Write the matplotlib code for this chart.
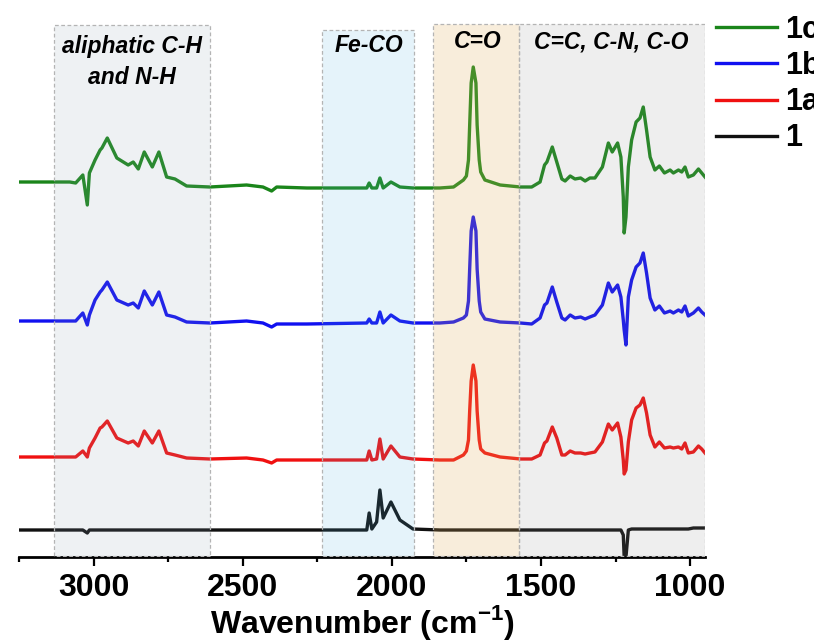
import numpy as np
import matplotlib.pyplot as plt
from matplotlib.patches import Rectangle
from matplotlib.ticker import MultipleLocator

plt.rcParams['font.family'] = ['Liberation Sans', 'DejaVu Sans']
plt.rcParams['font.weight'] = 'bold'
plt.rcParams['mathtext.fontset'] = 'custom'
plt.rcParams['mathtext.rm'] = 'Liberation Sans:bold'
plt.rcParams['mathtext.bf'] = 'Liberation Sans:bold'

# common wavenumber grid (cm-1)
wavenumber = [3250, 3080, 3060, 3036, 3021, 3014, 2995, 2978, 2972, 2954,
              2922, 2884, 2867, 2850, 2830, 2803, 2781, 2755, 2727, 2688,
              2610, 2487, 2432, 2403, 2386, 2285, 2084, 2076, 2067, 2051,
              2040, 2029, 2003, 1973, 1929, 1839, 1793, 1760, 1750, 1743,
              1739, 1734, 1727, 1718, 1714, 1707, 1702, 1688, 1637, 1569,
              1531, 1503, 1488, 1480, 1462, 1447, 1430, 1419, 1402, 1386,
              1367, 1352, 1336, 1319, 1294, 1274, 1261, 1243, 1232, 1224,
              1221, 1215, 1207, 1196, 1181, 1168, 1157, 1146, 1134, 1118,
              1103, 1086, 1067, 1056, 1039, 1028, 1017, 1006, 989, 972,
              961, 950]

# absorbance (a.u.), each relative to its own baseline
abs_1c = [1, 1, 0, 8, -22, 10, 23, 33, 35, 45,
          25, 18, 21, 14, 31, 16, 31, 6, 4, -3,
          -4, -2, -4, -8, -4, -5, -5, 0, -5, -5,
          5, -5, 1, -4, -5, -5, -4, 3, 7, 23,
          58, 100, 116, 100, 58, 23, 11, 3, -2, -4,
          -4, 1, 18, 21, 36, 21, 4, 2, 7, 4,
          5, 2, 5, 5, 16, 40, 31, 40, 26, -14,
          -50, -34, 16, 43, 61, 65, 76, 53, 26, 13,
          17, 10, 13, 10, 13, 11, 16, 6, 8, 14,
          10, 6]
abs_1b = [0, 0, 0, 8, -4, 6, 21, 29, 31, 39,
          21, 16, 18, 13, 30, 16, 29, 6, 4, -1,
          -2, 0, -2, -6, -3, -3, -2, 2, -2, -2,
          9, -2, 6, 0, -2, -2, -1, 3, 6, 20,
          52, 90, 104, 90, 52, 20, 9, 2, -1, -2,
          -3, 3, 16, 18, 34, 19, 3, 1, 6, 3,
          4, 2, 4, 6, 16, 38, 29, 36, 24, 1,
          -9, -24, 24, 41, 54, 58, 68, 48, 23, 11,
          15, 8, 10, 8, 11, 9, 15, 5, 8, 13,
          9, 6]
abs_1a = [0, 0, 0, 6, 0, 9, 19, 29, 30, 36,
          19, 14, 16, 11, 26, 14, 26, 4, 2, -1,
          -2, -1, -3, -6, -3, -3, -3, 6, -3, -2,
          18, -2, 11, 0, -2, -3, -3, 2, 6, 17,
          46, 76, 92, 76, 46, 17, 8, 4, 0, -2,
          -2, 2, 14, 16, 30, 19, 2, 2, 6, 4,
          4, 3, 4, 5, 15, 33, 27, 34, 20, -3,
          -17, -13, 15, 37, 49, 52, 59, 44, 22, 10,
          15, 9, 10, 9, 10, 8, 14, 4, 5, 11,
          8, 4]
abs_1 = [0, 0, 0, 0, -3, 0, 0, 0, 0, 0,
         0, 0, 0, 0, 0, 0, 0, 0, 0, 0,
         0, 0, 0, 0, 0, 0, 0, 17, 1, 8,
         40, 12, 28, 10, 1, 0, 0, 0, 0, 0,
         0, 0, 0, 0, 0, 0, 0, 0, 0, 0,
         0, 0, 0, 0, 0, 0, 0, 0, 0, 0,
         0, 0, 0, 0, 0, 0, 0, 0, 0, -5,
         -27, -27, 0, 1, 1, 1, 1, 1, 1, 1,
         1, 1, 1, 1, 1, 1, 1, 1, 2, 2,
         2, 2]

labels = ['1c', '1b', '1a', '1']
spectra = [abs_1c, abs_1b, abs_1a, abs_1]
offsets = [374, 236, 100, 27]
colors = ['#1a851a', '#1010f0', '#f01010', '#111111']

# shaded bands
band_names = ['aliphatic C-H\nand N-H', 'Fe-CO', 'C=O', 'C=C, C-N, C-O']
band_lo = [2610, 1925, 1573, 950]
band_hi = [3133, 2235, 1862, 1573]
band_top = [532, 527, 533, 533]
band_colors = [(0.56, 0.64, 0.71, 0.15), (0.32, 0.69, 0.87, 0.15),
               (0.89, 0.69, 0.36, 0.22), (0.56, 0.56, 0.56, 0.15)]
band_text_x = [2871, 2078, 1711, 1263]
band_text_y = [495, 511, 515, 515]

fig = plt.figure(figsize=(8.14, 6.43), dpi=100)
ax = fig.add_axes([19 / 814, 86 / 643, 686 / 814, 547 / 643])

wn = np.array(wavenumber)
for lab, sp, off, col in zip(labels, spectra, offsets, colors):
    ax.plot(wn, np.array(sp) + off, color=col, lw=2.4, label=lab, zorder=2,
            solid_joinstyle='round')

for name, lo, hi, top, fc, tx, ty in zip(band_names, band_lo, band_hi, band_top,
                                          band_colors, band_text_x, band_text_y):
    ax.add_patch(Rectangle((lo, 1.5), hi - lo, top - 1.5, facecolor=fc,
                           edgecolor='#b4b4b4', lw=0.9, linestyle=(0, (3, 2)),
                           zorder=3))
    ax.text(tx, ty, name, ha='center', va='center', fontsize=16.5,
            fontweight='bold', fontstyle='italic', linespacing=1.5, zorder=4)

ax.set_xlim(3250, 950)
ax.set_ylim(0, 547)
ax.xaxis.set_major_locator(MultipleLocator(500))
ax.xaxis.set_minor_locator(MultipleLocator(250))
ax.tick_params(axis='x', which='major', length=6.5, width=1.6, labelsize=23, pad=5)
ax.tick_params(axis='x', which='minor', length=3.8, width=1.6)
ax.set_yticks([])
for s in ['left', 'top', 'right']:
    ax.spines[s].set_visible(False)
ax.spines['bottom'].set_linewidth(2)
ax.set_xlabel(r'Wavenumber (cm$^{-1}$)', fontsize=23, fontweight='bold', labelpad=0)

ax.legend(loc='upper left', bbox_to_anchor=(716 / 814, 1 - 15 / 643),
          bbox_transform=fig.transFigure, frameon=False, fontsize=22,
          handlelength=2.0, handletextpad=0.25, labelspacing=0.2,
          borderpad=0, borderaxespad=0)

fig.savefig('out.png', dpi=100)
